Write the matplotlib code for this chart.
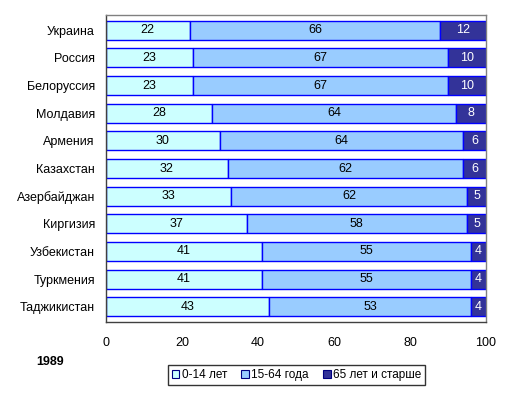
import matplotlib
matplotlib.use("Agg")
import matplotlib.pyplot as plt
import numpy as np

plt.rcParams['font.family'] = ['Liberation Sans', 'DejaVu Sans']

countries = ["Украина", "Россия", "Белоруссия", "Молдавия", "Армения", "Казахстан",
             "Азербайджан", "Киргизия", "Узбекистан", "Туркмения", "Таджикистан"]
age_0_14 = [22, 23, 23, 28, 30, 32, 33, 37, 41, 41, 43]
age_15_64 = [66, 67, 67, 64, 64, 62, 62, 58, 55, 55, 53]
age_65 = [12, 10, 10, 8, 6, 6, 5, 5, 4, 4, 4]
series_labels = ["0-14 лет", "15-64 года", "65 лет и старше"]
colors = ["#CCFFFF", "#99CCFF", "#333399"]
text_colors = ["black", "black", "white"]
xticks = [0, 20, 40, 60, 80, 100]

fig = plt.figure(figsize=(5.13, 3.94), dpi=100)
ax = fig.add_axes([106/513, 1-322/394, 380/513, 307/394])

y = np.arange(len(countries))
left = np.zeros(len(countries))
for vals, col, tc, lab in zip([age_0_14, age_15_64, age_65], colors, text_colors, series_labels):
    vals = np.array(vals, dtype=float)
    ax.barh(y, vals, left=left, height=0.68, color=col, edgecolor="#0000FF",
            linewidth=1.0, label=lab)
    for yi, l, v in zip(y, left, vals):
        ax.text(l + v/2, yi, f"{int(v)}", ha="center", va="center", fontsize=9, color=tc)
    left += vals

ax.set_xlim(0, 100)
ax.set_ylim(10.55, -0.55)
ax.set_yticks(y)
ax.set_yticklabels(countries, fontsize=9)
ax.set_xticks(xticks)
ax.set_xticklabels([str(t) for t in xticks], fontsize=9)
ax.tick_params(axis="y", length=0, pad=8)
ax.tick_params(axis="x", length=0, pad=11)
for s in ax.spines.values():
    s.set_color("#808080")
    s.set_linewidth(1.0)
ax.spines["left"].set_color("#404040")
ax.spines["bottom"].set_color("#404040")

fig.text(36/513, 1-362/394, "1989", fontsize=9, fontweight="bold", va="center", ha="left")

leg_handles = [plt.Rectangle((0, 0), 1, 1, facecolor=c, edgecolor="#000080", linewidth=0.8) for c in colors]
leg = fig.legend(leg_handles, series_labels, loc="center", bbox_to_anchor=(296.5/513, 1-375/394),
                 ncol=3, fontsize=8.5, frameon=True, fancybox=False, edgecolor="black",
                 handlelength=0.65, handleheight=0.65, handletextpad=0.2, columnspacing=1.2,
                 borderpad=0.35)
leg.get_frame().set_linewidth(1.0)

fig.savefig("out.png", dpi=100, facecolor="white")
